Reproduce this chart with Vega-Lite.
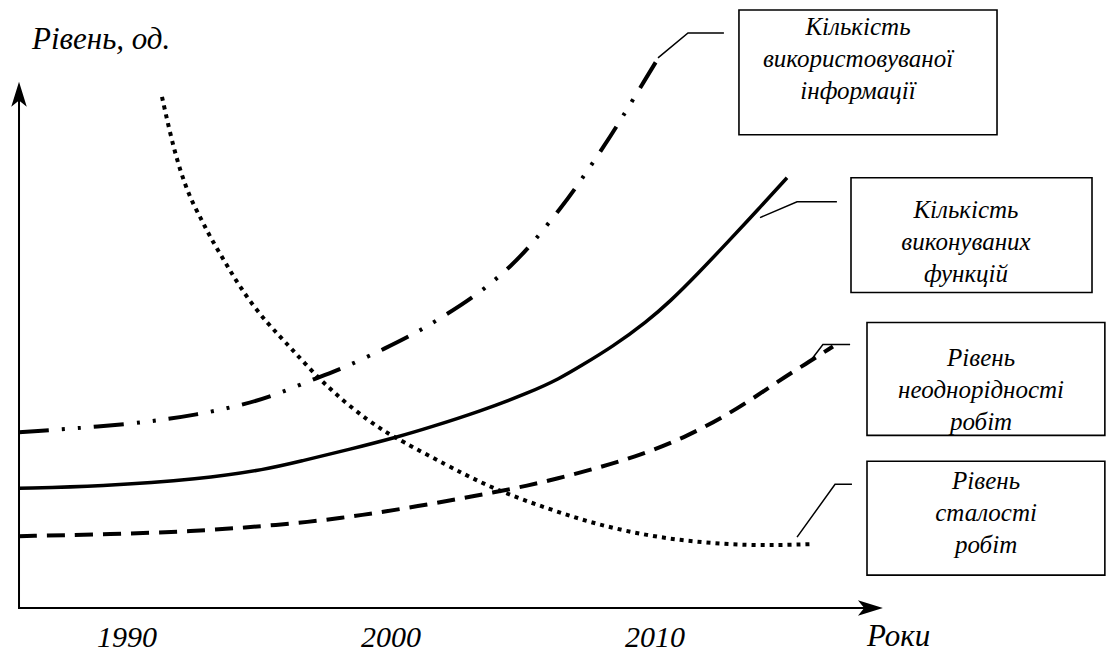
{
  "$schema": "https://vega.github.io/schema/vega-lite/v6.json",
  "width": 1107,
  "height": 653,
  "autosize": {"type": "fit", "contains": "padding"},
  "padding": 0,
  "background": "white",
  "config": {"view": {"stroke": null}},
  "datasets": {
    "axes": [
      {"name": "x", "x": 1985.909, "y": 0, "x2": 2018.14, "y2": 0},
      {"name": "y", "x": 1985.909, "y": -0.02, "x2": 1985.909, "y2": 10.2}
    ],
    "arrows": [
      {"name": "y", "x": 1985.909, "y": 10.29},
      {"name": "x", "x": 2018.16, "y": 0}
    ],
    "curves": [
      {"series": "info", "x": 1985.909, "y": 3.52},
      {"series": "info", "x": 1990.227, "y": 3.68},
      {"series": "info", "x": 1992.765, "y": 3.88},
      {"series": "info", "x": 1994.469, "y": 4.08},
      {"series": "info", "x": 1995.682, "y": 4.28},
      {"series": "info", "x": 1997.234, "y": 4.62},
      {"series": "info", "x": 1998.257, "y": 4.82},
      {"series": "info", "x": 1999.848, "y": 5.22},
      {"series": "info", "x": 2000.833, "y": 5.48},
      {"series": "info", "x": 2001.856, "y": 5.80},
      {"series": "info", "x": 2003.295, "y": 6.28},
      {"series": "info", "x": 2004.621, "y": 6.88},
      {"series": "info", "x": 2005.378, "y": 7.32},
      {"series": "info", "x": 2006.477, "y": 8.04},
      {"series": "info", "x": 2007.159, "y": 8.54},
      {"series": "info", "x": 2008.106, "y": 9.28},
      {"series": "info", "x": 2008.75, "y": 9.82},
      {"series": "info", "x": 2009.62, "y": 10.58},
      {"series": "info", "x": 2010.15, "y": 11.04},

      {"series": "func", "x": 1985.909, "y": 2.40},
      {"series": "func", "x": 1988.977, "y": 2.44},
      {"series": "func", "x": 1992.765, "y": 2.58},
      {"series": "func", "x": 1995.303, "y": 2.78},
      {"series": "func", "x": 1996.553, "y": 2.94},
      {"series": "func", "x": 1998.447, "y": 3.18},
      {"series": "func", "x": 2000.341, "y": 3.44},
      {"series": "func", "x": 2001.477, "y": 3.62},
      {"series": "func", "x": 2003.371, "y": 3.94},
      {"series": "func", "x": 2005.265, "y": 4.32},
      {"series": "func", "x": 2006.401, "y": 4.60},
      {"series": "func", "x": 2007.159, "y": 4.84},
      {"series": "func", "x": 2008.409, "y": 5.24},
      {"series": "func", "x": 2009.697, "y": 5.74},
      {"series": "func", "x": 2010.568, "y": 6.14},
      {"series": "func", "x": 2011.591, "y": 6.68},
      {"series": "func", "x": 2012.841, "y": 7.38},
      {"series": "func", "x": 2013.864, "y": 7.96},
      {"series": "func", "x": 2015.0, "y": 8.62},

      {"series": "hetero", "x": 1985.909, "y": 1.44},
      {"series": "hetero", "x": 1989.432, "y": 1.48},
      {"series": "hetero", "x": 1992.576, "y": 1.54},
      {"series": "hetero", "x": 1994.659, "y": 1.62},
      {"series": "hetero", "x": 1996.856, "y": 1.72},
      {"series": "hetero", "x": 1998.9, "y": 1.86},
      {"series": "hetero", "x": 2001.022, "y": 2.04},
      {"series": "hetero", "x": 2003.105, "y": 2.24},
      {"series": "hetero", "x": 2005.14, "y": 2.44},
      {"series": "hetero", "x": 2007.23, "y": 2.72},
      {"series": "hetero", "x": 2009.24, "y": 3.02},
      {"series": "hetero", "x": 2011.25, "y": 3.44},
      {"series": "hetero", "x": 2013.106, "y": 3.98},
      {"series": "hetero", "x": 2014.77, "y": 4.58},
      {"series": "hetero", "x": 2015.68, "y": 4.88},
      {"series": "hetero", "x": 2016.74, "y": 5.24},

      {"series": "const", "x": 1991.325, "y": 10.24},
      {"series": "const", "x": 1991.628, "y": 9.52},
      {"series": "const", "x": 1991.893, "y": 8.98},
      {"series": "const", "x": 1992.197, "y": 8.48},
      {"series": "const", "x": 1992.5, "y": 8.10},
      {"series": "const", "x": 1992.84, "y": 7.76},
      {"series": "const", "x": 1993.144, "y": 7.44},
      {"series": "const", "x": 1993.522, "y": 7.10},
      {"series": "const", "x": 1993.901, "y": 6.76},
      {"series": "const", "x": 1994.28, "y": 6.44},
      {"series": "const", "x": 1994.772, "y": 6.06},
      {"series": "const", "x": 1995.303, "y": 5.72},
      {"series": "const", "x": 1995.795, "y": 5.44},
      {"series": "const", "x": 1996.25, "y": 5.18},
      {"series": "const", "x": 1996.742, "y": 4.90},
      {"series": "const", "x": 1997.31, "y": 4.58},
      {"series": "const", "x": 1997.803, "y": 4.34},
      {"series": "const", "x": 1998.447, "y": 4.04},
      {"series": "const", "x": 1999.09, "y": 3.78},
      {"series": "const", "x": 1999.697, "y": 3.56},
      {"series": "const", "x": 2000.341, "y": 3.36},
      {"series": "const", "x": 2002.121, "y": 2.86},
      {"series": "const", "x": 2003.371, "y": 2.52},
      {"series": "const", "x": 2004.621, "y": 2.24},
      {"series": "const", "x": 2005.909, "y": 2.00},
      {"series": "const", "x": 2007.159, "y": 1.78},
      {"series": "const", "x": 2008.409, "y": 1.60},
      {"series": "const", "x": 2009.697, "y": 1.46},
      {"series": "const", "x": 2010.947, "y": 1.36},
      {"series": "const", "x": 2012.197, "y": 1.30},
      {"series": "const", "x": 2013.485, "y": 1.26},
      {"series": "const", "x": 2014.735, "y": 1.26},
      {"series": "const", "x": 2015.871, "y": 1.28}
    ],
    "leaders": [
      {"id": "info", "ord": 1, "x": 2010.113, "y": 11.02},
      {"id": "info", "ord": 2, "x": 2011.25, "y": 11.52},
      {"id": "info", "ord": 3, "x": 2012.61, "y": 11.52},
      {"id": "func", "ord": 1, "x": 2013.977, "y": 7.82},
      {"id": "func", "ord": 2, "x": 2015.38, "y": 8.14},
      {"id": "func", "ord": 3, "x": 2016.89, "y": 8.14},
      {"id": "hetero", "ord": 1, "x": 2015.87, "y": 4.94},
      {"id": "hetero", "ord": 2, "x": 2016.36, "y": 5.28},
      {"id": "hetero", "ord": 3, "x": 2017.39, "y": 5.28},
      {"id": "const", "ord": 1, "x": 2015.38, "y": 1.42},
      {"id": "const", "ord": 2, "x": 2016.82, "y": 2.48},
      {"id": "const", "ord": 3, "x": 2017.46, "y": 2.48}
    ],
    "boxes": [
      {"id": "info", "x": 2013.18, "x2": 2022.955, "y": 11.98, "y2": 9.48},
      {"id": "func", "x": 2017.424, "x2": 2026.553, "y": 8.62, "y2": 6.32},
      {"id": "hetero", "x": 2018.03, "x2": 2027.04, "y": 5.72, "y2": 3.46},
      {"id": "const", "x": 2018.03, "x2": 2027.04, "y": 2.94, "y2": 0.66}
    ],
    "boxlabels": [
      {"x": 2017.69, "y": 11.48, "label": "Кількість\nвикористовуваної\nінформації"},
      {"x": 2021.78, "y": 7.82, "label": "Кількість\nвиконуваних\nфункцій"},
      {"x": 2022.35, "y": 4.84, "label": "Рівень\nнеоднорідності\nробіт"},
      {"x": 2022.54, "y": 2.38, "label": "Рівень\nсталості\nробіт"}
    ],
    "ticks": [
      {"x": 1990, "y": -0.78, "label": "1990"},
      {"x": 2000, "y": -0.78, "label": "2000"},
      {"x": 2010, "y": -0.78, "label": "2010"}
    ],
    "titles": [
      {"x": 1986.401, "y": 11.2, "label": "Рівень, од."},
      {"x": 2018.03, "y": -0.76, "label": "Роки"}
    ]
  },
  "encoding": {
    "x": {"field": "x", "type": "quantitative", "scale": {"domain": [1985.189, 2027.121], "nice": false, "zero": false}, "axis": null},
    "y": {"field": "y", "type": "quantitative", "scale": {"domain": [-0.88, 12.18], "nice": false, "zero": false}, "axis": null}
  },
  "layer": [
    {
      "data": {"name": "axes"},
      "mark": {"type": "rule", "color": "black", "strokeWidth": 2},
      "encoding": {
        "x2": {"field": "x2"},
        "y2": {"field": "y2"}
      }
    },
    {
      "data": {"name": "arrows"},
      "transform": [{"filter": "datum.name === 'y'"}],
      "mark": {"type": "point", "shape": "M0,-1L0.62,1L0,0.5L-0.62,1Z", "size": 625, "filled": true, "color": "black", "opacity": 1, "strokeWidth": 0, "angle": 0}
    },
    {
      "data": {"name": "arrows"},
      "transform": [{"filter": "datum.name === 'x'"}],
      "mark": {"type": "point", "shape": "M0,-1L0.62,1L0,0.5L-0.62,1Z", "size": 625, "filled": true, "color": "black", "opacity": 1, "strokeWidth": 0, "angle": 90}
    },
    {
      "data": {"name": "curves"},
      "transform": [{"filter": "datum.series === 'info'"}],
      "mark": {"type": "line", "color": "black", "strokeWidth": 4, "interpolate": "basis", "strokeDash": [30, 13, 3, 13, 3, 13]}
    },
    {
      "data": {"name": "curves"},
      "transform": [{"filter": "datum.series === 'func'"}],
      "mark": {"type": "line", "color": "black", "strokeWidth": 3.5, "interpolate": "basis"}
    },
    {
      "data": {"name": "curves"},
      "transform": [{"filter": "datum.series === 'hetero'"}],
      "mark": {"type": "line", "color": "black", "strokeWidth": 4, "interpolate": "basis", "strokeDash": [18, 10]}
    },
    {
      "data": {"name": "curves"},
      "transform": [{"filter": "datum.series === 'const'"}],
      "mark": {"type": "line", "color": "black", "strokeWidth": 4, "interpolate": "basis", "strokeDash": [4, 5]}
    },
    {
      "data": {"name": "leaders"},
      "mark": {"type": "line", "color": "black", "strokeWidth": 1.5},
      "encoding": {
        "detail": {"field": "id"},
        "order": {"field": "ord", "type": "quantitative"}
      }
    },
    {
      "data": {"name": "boxes"},
      "mark": {"type": "rect", "fill": "white", "stroke": "black", "strokeWidth": 1.6},
      "encoding": {
        "x2": {"field": "x2"},
        "y2": {"field": "y2"}
      }
    },
    {
      "data": {"name": "boxlabels"},
      "mark": {"type": "text", "font": "Liberation Serif", "fontStyle": "italic", "fontSize": 25, "lineHeight": 32, "lineBreak": "\n", "align": "center", "baseline": "alphabetic", "color": "black"},
      "encoding": {"text": {"field": "label"}}
    },
    {
      "data": {"name": "ticks"},
      "mark": {"type": "text", "font": "Liberation Serif", "fontStyle": "italic", "fontSize": 30, "align": "center", "baseline": "alphabetic", "color": "black"},
      "encoding": {"text": {"field": "label"}}
    },
    {
      "data": {"name": "titles"},
      "mark": {"type": "text", "font": "Liberation Serif", "fontStyle": "italic", "fontSize": 31, "align": "left", "baseline": "alphabetic", "color": "black"},
      "encoding": {"text": {"field": "label"}}
    }
  ]
}
